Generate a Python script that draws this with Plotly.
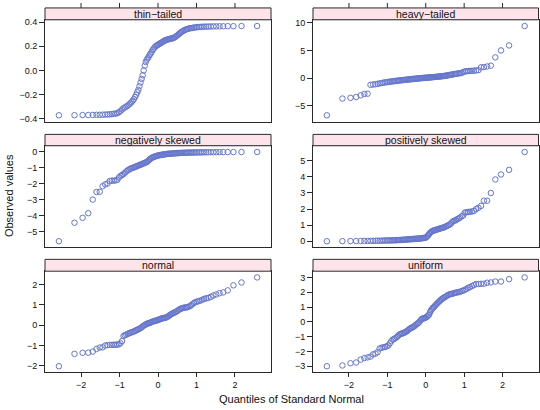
import plotly.graph_objects as go
from statistics import NormalDist

# ---------------- data (sorted observed values, n = 100 per panel) ----------------
panel_names = ["thin\u2212tailed", "heavy\u2212tailed", "negatively skewed",
               "positively skewed", "normal", "uniform"]

thin_tailed = [
    -0.370, -0.369, -0.368, -0.368, -0.367, -0.366, -0.366, -0.365, -0.364, -0.363,
    -0.362, -0.360, -0.358, -0.356, -0.352, -0.345, -0.335, -0.322, -0.312, -0.305,
    -0.298, -0.290, -0.282, -0.272, -0.262, -0.250, -0.238, -0.220, -0.200, -0.180,
    -0.160, -0.130, -0.100, -0.070, -0.040, 0.000, 0.040, 0.070, 0.090, 0.100,
    0.115, 0.130, 0.140, 0.155, 0.170, 0.180, 0.190, 0.200, 0.205, 0.210,
    0.215, 0.220, 0.225, 0.230, 0.235, 0.240, 0.245, 0.250, 0.252, 0.255,
    0.258, 0.260, 0.262, 0.264, 0.265, 0.268, 0.272, 0.278, 0.285, 0.292,
    0.300, 0.308, 0.315, 0.322, 0.328, 0.333, 0.338, 0.342, 0.345, 0.348,
    0.350, 0.352, 0.354, 0.356, 0.358, 0.359, 0.360, 0.361, 0.362, 0.362,
    0.363, 0.363, 0.364, 0.364, 0.365, 0.365, 0.366, 0.366, 0.367, 0.367]

heavy_tailed = [
    -6.70, -3.68, -3.55, -3.40, -3.10, -2.85, -2.80, -1.20, -1.15, -1.10,
    -1.02, -0.95, -0.88, -0.82, -0.77, -0.72, -0.68, -0.64, -0.60, -0.57,
    -0.54, -0.51, -0.48, -0.45, -0.42, -0.40, -0.37, -0.35, -0.33, -0.30,
    -0.28, -0.26, -0.24, -0.22, -0.20, -0.18, -0.16, -0.14, -0.12, -0.10,
    -0.08, -0.06, -0.05, -0.03, -0.01, 0.00, 0.02, 0.03, 0.05, 0.06,
    0.08, 0.09, 0.11, 0.12, 0.14, 0.15, 0.17, 0.18, 0.20, 0.22,
    0.23, 0.25, 0.27, 0.29, 0.31, 0.33, 0.35, 0.37, 0.40, 0.43,
    0.46, 0.50, 0.54, 0.58, 0.62, 0.66, 0.70, 0.74, 0.78, 0.82,
    0.86, 0.90, 0.95, 1.10, 1.20, 1.25, 1.28, 1.30, 1.32, 1.35,
    1.38, 1.45, 1.95, 2.00, 2.10, 2.25, 3.75, 5.00, 5.90, 9.40]

negatively_skewed = [
    -5.60, -4.44, -4.13, -3.84, -2.99, -2.51, -2.50, -2.15, -2.03, -1.98,
    -1.82, -1.80, -1.80, -1.78, -1.75, -1.60, -1.50, -1.45, -1.38, -1.30,
    -1.22, -1.15, -1.10, -1.06, -1.02, -1.00, -0.97, -0.94, -0.91, -0.88,
    -0.85, -0.82, -0.80, -0.77, -0.74, -0.71, -0.68, -0.66, -0.63, -0.58,
    -0.52, -0.46, -0.41, -0.37, -0.34, -0.31, -0.29, -0.27, -0.25, -0.23,
    -0.22, -0.20, -0.19, -0.18, -0.17, -0.16, -0.15, -0.14, -0.13, -0.12,
    -0.115, -0.11, -0.105, -0.10, -0.095, -0.09, -0.085, -0.08, -0.075, -0.07,
    -0.066, -0.062, -0.058, -0.055, -0.052, -0.049, -0.046, -0.043, -0.040, -0.038,
    -0.036, -0.034, -0.032, -0.030, -0.028, -0.026, -0.024, -0.022, -0.020, -0.018,
    -0.016, -0.014, -0.012, -0.010, -0.008, -0.006, -0.004, -0.003, -0.002, 0.000]

positively_skewed = [
    0.000, 0.005, 0.010, 0.012, 0.015, 0.018, 0.020, 0.022, 0.025, 0.028,
    0.030, 0.033, 0.036, 0.039, 0.042, 0.045, 0.048, 0.051, 0.054, 0.057,
    0.060, 0.064, 0.068, 0.072, 0.076, 0.080, 0.085, 0.090, 0.095, 0.100,
    0.105, 0.110, 0.115, 0.120, 0.125, 0.130, 0.135, 0.140, 0.145, 0.150,
    0.155, 0.160, 0.165, 0.170, 0.175, 0.180, 0.190, 0.200, 0.210, 0.220,
    0.240, 0.300, 0.360, 0.450, 0.520, 0.580, 0.620, 0.650, 0.670, 0.690,
    0.710, 0.730, 0.750, 0.770, 0.790, 0.810, 0.830, 0.850, 0.870, 0.900,
    0.940, 0.970, 1.000, 1.050, 1.100, 1.200, 1.250, 1.280, 1.320, 1.380,
    1.420, 1.480, 1.550, 1.600, 1.780, 1.800, 1.820, 1.830, 1.850, 1.880,
    2.000, 2.080, 2.200, 2.520, 2.520, 3.000, 3.840, 4.150, 4.440, 5.550]

normal = [
    -2.02, -1.41, -1.36, -1.35, -1.30, -1.17, -1.10, -1.09, -1.00, -0.98,
    -0.97, -0.97, -0.96, -0.96, -0.95, -0.94, -0.88, -0.78, -0.53, -0.49,
    -0.46, -0.43, -0.40, -0.37, -0.35, -0.33, -0.31, -0.28, -0.25, -0.22,
    -0.20, -0.17, -0.14, -0.10, -0.06, -0.02, 0.01, 0.04, 0.07, 0.09,
    0.10, 0.12, 0.14, 0.16, 0.18, 0.20, 0.21, 0.22, 0.24, 0.25,
    0.27, 0.29, 0.31, 0.33, 0.34, 0.35, 0.36, 0.37, 0.39, 0.41,
    0.44, 0.48, 0.52, 0.55, 0.58, 0.60, 0.63, 0.65, 0.68, 0.72,
    0.76, 0.79, 0.82, 0.84, 0.86, 0.87, 0.88, 0.89, 0.91, 0.94,
    0.98, 1.04, 1.10, 1.14, 1.17, 1.19, 1.22, 1.26, 1.30, 1.33,
    1.35, 1.40, 1.47, 1.52, 1.58, 1.62, 1.72, 1.97, 2.11, 2.36]

uniform = [
    -3.00, -2.95, -2.80, -2.75, -2.55, -2.45, -2.40, -2.35, -2.20, -2.15,
    -2.05, -1.80, -1.75, -1.72, -1.70, -1.65, -1.60, -1.45, -1.30, -1.20,
    -1.15, -1.10, -1.03, -0.95, -0.87, -0.82, -0.80, -0.78, -0.75, -0.70,
    -0.66, -0.62, -0.55, -0.49, -0.44, -0.40, -0.38, -0.33, -0.29, -0.22,
    -0.16, -0.11, -0.07, 0.00, 0.10, 0.17, 0.22, 0.22, 0.25, 0.27,
    0.31, 0.36, 0.43, 0.49, 0.65, 0.78, 0.87, 0.96, 1.00, 1.09,
    1.16, 1.23, 1.30, 1.36, 1.43, 1.50, 1.54, 1.61, 1.65, 1.68,
    1.74, 1.79, 1.83, 1.86, 1.88, 1.90, 1.92, 1.95, 1.97, 1.99,
    2.01, 2.03, 2.08, 2.10, 2.17, 2.21, 2.30, 2.34, 2.41, 2.48,
    2.55, 2.55, 2.57, 2.57, 2.64, 2.66, 2.72, 2.72, 2.88, 3.00]

x_tick_values = [-2, -1, 0, 1, 2]
y_tick_values = [
    [-0.4, -0.2, 0.0, 0.2, 0.4],
    [-5, 0, 5, 10],
    [-5, -4, -3, -2, -1, 0],
    [0, 1, 2, 3, 4, 5],
    [-2, -1, 0, 1, 2],
    [-3, -2, -1, 0, 1, 2, 3],
]
y_tick_formats = [".1f", "d", "d", "d", "d", "d"]
x_title = "Quantiles of Standard Normal"
y_title = "Observed values"

series = [thin_tailed, heavy_tailed, negatively_skewed,
          positively_skewed, normal, uniform]

# ---------------- layout geometry ----------------
W, H = 540, 410
PAD = 0.07
point_color = "#6676cc"
line_color = "#2a2a2a"
strip_fill = "#fde4ea"
font_family = "Liberation Sans, Arial, Helvetica, sans-serif"

col_px = [(45, 271), (313, 538.5)]
row_px = [  # (strip top, plot top, plot bottom) in pixels from top
    (5, 17, 120),
    (133, 144.5, 247.5),
    (259.5, 271.5, 374),
]


def py(p):
    return 1 - p / H


def px(p):
    return p / W


n = len(thin_tailed)
nd = NormalDist()
theo = [nd.inv_cdf((i - 0.5) / n) for i in range(1, n + 1)]
xlo, xhi = min(theo), max(theo)
xpad = PAD * (xhi - xlo)
xrange_ = [xlo - xpad, xhi + xpad]

fig = go.Figure()
layout = dict(
    width=W, height=H,
    margin=dict(l=0, r=0, t=0, b=0),
    paper_bgcolor="white", plot_bgcolor="white",
    showlegend=False,
    font=dict(family=font_family, size=9, color="#111"),
)
shapes = []
annotations = []

for k, (name, vals) in enumerate(zip(panel_names, series)):
    r, c = divmod(k, 2)
    idx = k + 1
    xa = "x" if idx == 1 else f"x{idx}"
    ya = "y" if idx == 1 else f"y{idx}"
    fig.add_trace(go.Scatter(
        x=theo, y=vals, mode="markers", xaxis=xa, yaxis=ya,
        marker=dict(symbol="circle-open", size=5.5,
                    color=point_color, line=dict(width=1, color=point_color)),
        hoverinfo="skip",
    ))
    s_top, p_top, p_bot = row_px[r]
    c0, c1 = col_px[c]
    ylo, yhi = min(vals), max(vals)
    ypad = PAD * (yhi - ylo)
    bottom = (r == 2)
    layout["xaxis" if idx == 1 else f"xaxis{idx}"] = dict(
        domain=[px(c0), px(c1)], anchor=ya, range=xrange_,
        showgrid=False, zeroline=False,
        showline=True, mirror=True, linecolor=line_color, linewidth=1,
        ticks="outside" if bottom else "", ticklen=4, tickcolor=line_color,
        tickvals=x_tick_values, showticklabels=bottom,
        tickfont=dict(size=9),
    )
    layout["yaxis" if idx == 1 else f"yaxis{idx}"] = dict(
        domain=[py(p_bot), py(p_top)], anchor=xa,
        range=[ylo - ypad, yhi + ypad],
        showgrid=False, zeroline=False,
        showline=True, mirror=True, linecolor=line_color, linewidth=1,
        ticks="outside", ticklen=5, tickcolor=line_color,
        tickvals=y_tick_values[k], tickformat=y_tick_formats[k],
        tickfont=dict(size=9),
    )
    # strip
    shapes.append(dict(type="rect", xref="paper", yref="paper",
                       x0=px(c0), x1=px(c1), y0=py(p_top), y1=py(s_top),
                       fillcolor=strip_fill, line=dict(color=line_color, width=1),
                       layer="above"))
    annotations.append(dict(text=name, xref="paper", yref="paper",
                            x=(px(c0) + px(c1)) / 2, y=(py(p_top) + py(s_top)) / 2,
                            xanchor="center", yanchor="middle", showarrow=False,
                            font=dict(size=10.5, color="#111")))
    # top-row tick marks above the strip (lattice style)
    if r == 0:
        for tv in x_tick_values:
            shapes.append(dict(type="line", xref=xa, yref="paper",
                               x0=tv, x1=tv, y0=py(s_top), y1=py(0),
                               line=dict(color=line_color, width=1)))

annotations.append(dict(text=y_title, xref="paper", yref="paper",
                        x=px(9), y=py((17 + 374) / 2), textangle=-90,
                        xanchor="center", yanchor="middle", showarrow=False,
                        font=dict(size=11, color="#111")))
annotations.append(dict(text=x_title, xref="paper", yref="paper",
                        x=px((45 + 538.5) / 2), y=py(401),
                        xanchor="center", yanchor="middle", showarrow=False,
                        font=dict(size=11, color="#111")))

layout["shapes"] = shapes
layout["annotations"] = annotations
fig.update_layout(**layout)
fig.write_html(
    "out.html",
    config={"displayModeBar": False},
    post_script="document.body.style.margin='0';document.body.style.overflow='hidden';",
)
